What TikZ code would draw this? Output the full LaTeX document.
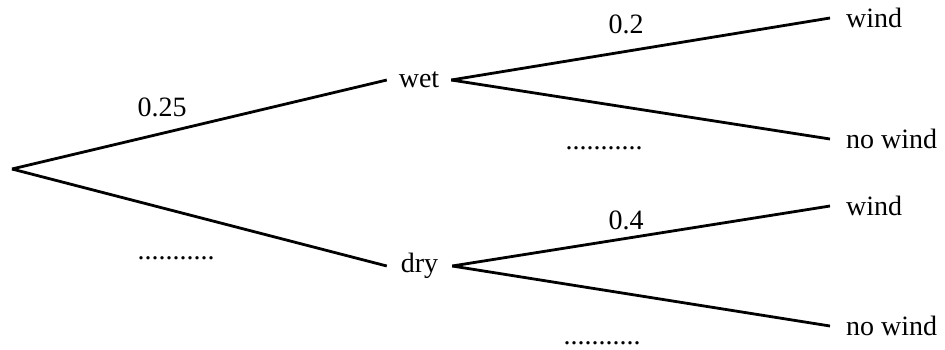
\documentclass[tikz,border=0pt]{standalone}
\usepackage{fontspec}
\setmainfont{Liberation Serif}
\begin{document}
\begin{tikzpicture}[x=1pt,y=-1pt,
  branch/.style={line width=2.8pt},
  lbl/.style={font=\fontsize{28}{32}\selectfont, inner sep=0pt},
  mid/.style={lbl, minimum width=64pt, inner xsep=0pt},
  leaf/.style={lbl, anchor=west, inner xsep=16pt, inner ysep=0pt}]
\useasboundingbox (0,0) rectangle (945,349);
\coordinate (root) at (12,169);
\node[mid] (wet) at (419,80) {wet};
\node[mid, minimum width=65pt] (dry) at (419.5,266) {dry};
\node[leaf] (w1) at (830,18) {wind};
\node[leaf] (nw1) at (830,139) {no wind};
\node[leaf] (w2) at (830,206) {wind};
\node[leaf] (nw2) at (830,326) {no wind};
\draw[branch] (root) -- (wet.west);
\draw[branch] (root) -- (dry.west);
\draw[branch] (wet.east) -- (w1.west);
\draw[branch] (wet.east) -- (nw1.west);
\draw[branch] (dry.east) -- (w2.west);
\draw[branch] (dry.east) -- (nw2.west);
\node[lbl] (p1) at (162,107) {0.25};
\node[lbl] (p2) at (626,24) {0.2};
\node[lbl] (p3) at (626,220) {0.4};
\node[lbl, anchor=base] (d1) at (176,259) {...........};
\node[lbl, anchor=base] (d2) at (604,149) {...........};
\node[lbl, anchor=base] (d3) at (602,344) {...........};
\end{tikzpicture}
\end{document}
